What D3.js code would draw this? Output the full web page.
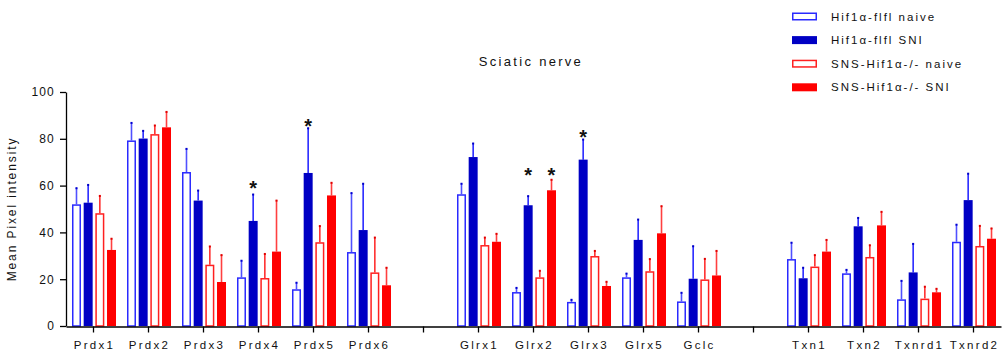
<!DOCTYPE html>
<html>
<head>
<meta charset="utf-8">
<script src="https://cdn.jsdelivr.net/npm/d3@7"></script>
<style>
  body { margin: 0; background: #fff; }
  svg text { font-family: "Liberation Sans", Arial, sans-serif; fill: #111; }
  .axis path, .axis line { stroke: #000; stroke-width: 1.3; }
</style>
</head>
<body>
<div id="chart"></div>
<script>
// genes along the x axis, blank entries are the gaps between groups
var genes = ["Prdx1", "Prdx2", "Prdx3", "Prdx4", "Prdx5", "Prdx6", "",
             "Glrx1", "Glrx2", "Glrx3", "Glrx5", "Gclc", " ",
             "Txn1", "Txn2", "Txnrd1", "Txnrd2"];

var keys = ["flNaive", "flSNI", "koNaive", "koSNI"];
var legendLabels = ["Hif1\u03b1-flfl naive", "Hif1\u03b1-flfl SNI",
                    "SNS-Hif1\u03b1-/- naive", "SNS-Hif1\u03b1-/- SNI"];

// mean values
var flNaive = [52.0, 79.3, 65.8, 20.8, 15.7, 31.6, null, 56.3, 14.5, 10.3, 20.8, 10.5, null, 28.6, 22.5, 11.4, 36.0];
var flSNI   = [52.7, 80.1, 53.6, 44.9, 65.4, 41.0, null, 72.2, 51.6, 71.1, 36.8, 20.2, null, 20.4, 42.6, 22.9, 53.8];
var koNaive = [48.2, 82.0, 26.2, 20.5, 35.8, 22.9, null, 34.6, 20.8, 29.9, 23.4, 19.9, null, 25.4, 29.5, 11.7, 34.2];
var koSNI   = [32.5, 84.9, 18.8, 31.8, 55.8, 17.4, null, 36.0, 58.0, 17.1, 39.6, 21.6, null, 31.8, 43.0, 14.4, 37.3];

// SEM (upper error only)
var flNaiveErr = [7.1, 7.7, 10.1, 7.3, 3.0, 25.4, null, 4.7, 2.0, 1.1, 1.8, 3.9, null, 7.2, 1.7, 8.1, 7.5];
var flSNIErr   = [7.8, 3.5, 4.5, 11.5, 19.3, 20.0, null, 6.0, 4.1, 8.8, 8.9, 14.1, null, 4.7, 3.8, 12.4, 11.5];
var koNaiveErr = [7.6, 3.9, 8.0, 10.5, 7.1, 15.1, null, 3.4, 3.0, 2.4, 5.4, 9.0, null, 5.1, 5.2, 5.3, 8.8];
var koSNIErr   = [5.0, 6.8, 11.7, 22.0, 5.6, 7.7, null, 3.6, 4.7, 2.0, 11.8, 10.7, null, 5.2, 6.0, 1.7, 4.6];

var yTicks = [0, 20, 40, 60, 80, 100];

// significance stars: gene, series, height on the y scale
var starGenes = ["Prdx4", "Prdx5", "Glrx2", "Glrx2", "Glrx3"];
var starKeys  = ["flSNI", "flSNI", "flSNI", "koSNI", "flSNI"];
var starLevel = [62, 88.5, 67.6, 67.6, 84];

var means = {flNaive: flNaive, flSNI: flSNI, koNaive: koNaive, koSNI: koSNI};
var errs = {flNaive: flNaiveErr, flSNI: flSNIErr, koNaive: koNaiveErr, koSNI: koSNIErr};

var style = {
    flNaive: {fill: "#fff", stroke: "#2a2aff", err: "#5050ff", cap: "#0000d0", open: true},
    flSNI:   {fill: "#0000c4", stroke: "#0000c4", err: "#2a2aff", cap: "#0000c4", open: false},
    koNaive: {fill: "#fff", stroke: "#ff2020", err: "#ff3030", cap: "#e00000", open: true},
    koSNI:   {fill: "#ff0000", stroke: "#ff0000", err: "#ff4040", cap: "#e00000", open: false}
};

var svg = d3.select("#chart").append("svg")
    .attr("width", 1003)
    .attr("height", 354);

var x0 = d3.scaleBand()
    .domain(genes)
    .range([66, 1001]);

var x1 = d3.scaleBand()
    .domain(keys)
    .range([6, 50])
    .paddingInner(0.23);

var y = d3.scaleLinear()
    .domain([0, 100])
    .range([326, 92]);

// bars
var rows = [];
genes.forEach(function(g, i) {
    keys.forEach(function(k) {
        if (means[k][i] != null) rows.push({gene: g, key: k, value: means[k][i], err: errs[k][i]});
    });
});

var bars = svg.append("g").selectAll("g")
    .data(rows)
    .enter().append("g")
    .attr("transform", function(d) { return "translate(" + (x0(d.gene) + x1(d.key)) + ",0)"; });

var bw = x1.bandwidth();

// error line first so the bar outline sits on top
bars.append("line")
    .attr("x1", bw / 2).attr("x2", bw / 2)
    .attr("y1", function(d) { return y(d.value); })
    .attr("y2", function(d) { return y(d.value + d.err); })
    .attr("stroke", function(d) { return style[d.key].err; })
    .attr("stroke-width", 1.6);

bars.append("rect")
    .attr("x", bw / 2 - 1)
    .attr("y", function(d) { return y(d.value + d.err) - 0.5; })
    .attr("width", 2)
    .attr("height", 2)
    .attr("fill", function(d) { return style[d.key].cap; });

bars.append("rect")
    .attr("x", function(d) { return style[d.key].open ? 0.75 : 0; })
    .attr("y", function(d) { return y(d.value) + (style[d.key].open ? 0.75 : 0); })
    .attr("width", function(d) { return style[d.key].open ? bw - 1.5 : bw; })
    .attr("height", function(d) { return y(0) - y(d.value) - (style[d.key].open ? 0.75 : 0); })
    .attr("fill", function(d) { return style[d.key].fill; })
    .attr("stroke", function(d) { return style[d.key].open ? style[d.key].stroke : "none"; })
    .attr("stroke-width", 1.5);

// stars
svg.append("g").selectAll("text")
    .data(starGenes)
    .enter().append("text")
    .attr("x", function(g, i) { return x0(g) + x1(starKeys[i]) + bw / 2; })
    .attr("y", function(g, i) { return y(starLevel[i]); })
    .attr("dy", "0.72em")
    .attr("text-anchor", "middle")
    .attr("font-size", 20)
    .attr("font-weight", "bold")
    .text("*");

// y axis
var yAxis = svg.append("g")
    .attr("class", "axis")
    .attr("transform", "translate(66,0)")
    .call(d3.axisLeft(y).tickValues(yTicks).tickSize(6).tickSizeOuter(0).tickPadding(5));
yAxis.selectAll("text")
    .attr("font-size", 12)
    .attr("letter-spacing", "1.2px");

// x axis
var xAxis = svg.append("g")
    .attr("class", "axis")
    .attr("transform", "translate(0,326.5)")
    .call(d3.axisBottom(x0).tickSize(6).tickSizeOuter(0).tickPadding(8));
xAxis.selectAll("text")
    .attr("font-size", 11.5)
    .attr("letter-spacing", "2.3px")
    .attr("dx", "1px");

// y label
svg.append("text")
    .attr("transform", "translate(16,209) rotate(-90)")
    .attr("text-anchor", "middle")
    .attr("font-size", 12)
    .attr("letter-spacing", "1.9px")
    .text("Mean Pixel intensity");

// title
svg.append("text")
    .attr("x", 531)
    .attr("y", 66)
    .attr("text-anchor", "middle")
    .attr("font-size", 13)
    .attr("letter-spacing", "2.3px")
    .text("Sciatic nerve");

// legend
var legend = svg.append("g")
    .selectAll("g")
    .data(keys)
    .enter().append("g")
    .attr("transform", function(d, i) { return "translate(792," + (12.5 + i * 23.6) + ")"; });

legend.append("rect")
    .attr("x", function(d) { return style[d].open ? 0.75 : 0; })
    .attr("y", function(d) { return style[d].open ? 0.75 : 0; })
    .attr("width", function(d) { return style[d].open ? 23.5 : 25; })
    .attr("height", function(d) { return style[d].open ? 6.5 : 8; })
    .attr("fill", function(d) { return style[d].fill; })
    .attr("stroke", function(d) { return style[d].open ? style[d].stroke : "none"; })
    .attr("stroke-width", 1.5);

legend.append("text")
    .attr("x", 39)
    .attr("y", 4)
    .attr("dy", "0.35em")
    .attr("font-size", 11.5)
    .attr("letter-spacing", "2px")
    .text(function(d, i) { return legendLabels[i]; });
</script>
</body>
</html>
